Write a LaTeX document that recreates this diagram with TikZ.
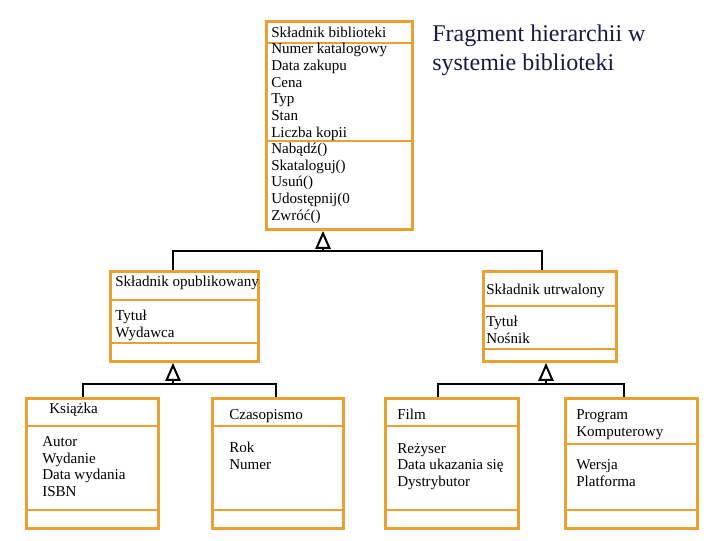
\documentclass[tikz,border=0pt]{standalone}
\usepackage{fontspec}
\setmainfont{Liberation Serif}
\usetikzlibrary{arrows.meta}
\definecolor{ramka}{RGB}{233,161,50}
\definecolor{granat}{RGB}{24,26,62}
\tikzset{>=latex}
\tikzset{
	klasa/.style={draw=ramka,line width=2.2pt,inner sep=0pt,anchor=north west},
	podzial/.style={draw=ramka,line width=2.2pt},
	% base west = linia bazowa ostatniego wiersza
	opis/.style={anchor=base west,inner sep=0pt,align=left,font=\fontsize{11.3}{12.5}\selectfont},
	linia/.style={line width=1.5pt},
	dziedziczy/.style={line width=1.5pt,-{Triangle[open,length=13.5pt,width=11.5pt]}}
}
\begin{document}
\begin{tikzpicture}[x=0.75pt,y=-0.75pt]
			\useasboundingbox (0,0) rectangle (720,540);
			
			% klasy
			\node[klasa,minimum width=109.5pt,minimum height=156pt] (lib) at (265,20) {};
			\node[klasa,minimum width=111pt,minimum height=67.5pt] (opub) at (109,270) {};
			\node[klasa,minimum width=99.75pt,minimum height=67.5pt] (utrw) at (482,270) {};
			\node[klasa,minimum width=99pt,minimum height=97.5pt] (ksiazka) at (25,397) {};
			\node[klasa,minimum width=98.25pt,minimum height=97.5pt] (czas) at (211,397) {};
			\node[klasa,minimum width=99.75pt,minimum height=97.5pt] (film) at (384,397) {};
			\node[klasa,minimum width=99pt,minimum height=97.5pt] (program) at (564,397) {};
			
			\foreach \y in {43,141} \draw[podzial] (lib.west |- 0,\y) -- (lib.east |- 0,\y);
			\foreach \y in {300,343} \draw[podzial] (opub.west |- 0,\y) -- (opub.east |- 0,\y);
			\foreach \y in {306,349} \draw[podzial] (utrw.west |- 0,\y) -- (utrw.east |- 0,\y);
			\foreach \y in {426,510} \draw[podzial] (ksiazka.west |- 0,\y) -- (ksiazka.east |- 0,\y);
			\foreach \y in {426,510} \draw[podzial] (czas.west |- 0,\y) -- (czas.east |- 0,\y);
			\foreach \y in {426,510} \draw[podzial] (film.west |- 0,\y) -- (film.east |- 0,\y);
			\foreach \y in {444,510} \draw[podzial] (program.west |- 0,\y) -- (program.east |- 0,\y);
			
			% teksty
			\node[opis] (libN) at (271,37.7) {Składnik biblioteki};
			\node[opis] (libA) at (271,137) {Numer katalogowy\\Data zakupu\\Cena\\Typ\\Stan\\Liczba kopii};
			\node[opis] (libO) at (271,220) {Nabądź()\\Skataloguj()\\Usuń()\\Udostępnij(0\\Zwróć()};
			\node[opis] (opubN) at (115,286.5) {Składnik opublikowany};
			\node[opis] (opubA) at (115,337.5) {Tytuł\\Wydawca};
			\node[opis] (utrwN) at (486,294.5) {Składnik utrwalony};
			\node[opis] (utrwA) at (486,343.5) {Tytuł\\Nośnik};
			\node[opis] (ksiazkaN) at (49,413.5) {Książka};
			\node[opis] (ksiazkaA) at (42,496.5) {Autor\\Wydanie\\Data wydania\\ISBN};
			\node[opis] (czasN) at (229,419.5) {Czasopismo};
			\node[opis] (czasA) at (229,469.5) {Rok\\Numer};
			\node[opis] (filmN) at (397,419.5) {Film};
			\node[opis] (filmA) at (397,486.5) {Reżyser\\Data ukazania się\\Dystrybutor};
			\node[opis] (programN) at (576,436.5) {Program\\Komputerowy};
			\node[opis] (programA) at (576,486.5) {Wersja\\Platforma};
			
			\node[anchor=base west,inner sep=0pt,align=left,text=granat,font=\fontsize{18}{21.3}\selectfont] (tytul) at (432,70) {Fragment hierarchii w\\systemie biblioteki};
			
			% dziedziczenie
			\coordinate (j1) at (323,251);
			\coordinate (j2) at (173,384);
			\coordinate (j3) at (546,384);
			
			\draw[linia] (opub.north -| 173,0) |- (j1) -| (utrw.north -| 542,0);
			\draw[dziedziczy] (j1) -- (lib.south -| j1);
			
			\draw[linia] (ksiazka.north -| 83,0) |- (j2) -| (czas.north -| 276,0);
			\draw[dziedziczy] (j2) -- (opub.south -| j2);
			
			\draw[linia] (film.north -| 438,0) |- (j3) -| (program.north -| 624,0);
			\draw[dziedziczy] (j3) -- (utrw.south -| j3);
			
\end{tikzpicture}
\end{document}
